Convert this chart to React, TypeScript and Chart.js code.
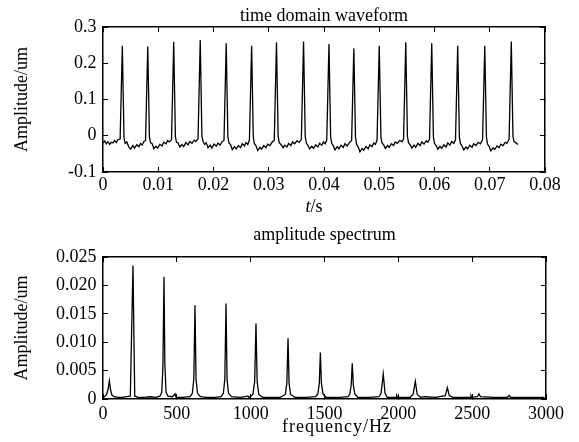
import React, { useEffect, useRef } from 'react';
import { Chart, registerables } from 'chart.js';

Chart.register(...registerables);

const FONT = '"Liberation Serif", "Times New Roman", serif';

// ---------- time domain waveform ----------
const waveTime = [
  0.0000, 0.0003, 0.0006, 0.0009, 0.0012, 0.0015, 0.0018, 0.0021, 0.0024, 0.0027, 0.0031,
  0.0035, 0.0038, 0.0040, 0.0043, 0.0047, 0.0050, 0.0054, 0.0057, 0.0061, 0.0065, 0.0068, 0.0071, 0.0074, 0.0077,
  0.0081, 0.0084, 0.0086, 0.0089, 0.0092, 0.0096, 0.0099, 0.0103, 0.0107, 0.0110, 0.0114, 0.0117, 0.0120, 0.0124,
  0.0128, 0.0131, 0.0133, 0.0136, 0.0139, 0.0143, 0.0146, 0.0150, 0.0154, 0.0157, 0.0161, 0.0165, 0.0168, 0.0172,
  0.0176, 0.0179, 0.0181, 0.0184, 0.0187, 0.0190, 0.0194, 0.0197, 0.0201, 0.0205, 0.0208, 0.0212, 0.0215, 0.0219,
  0.0223, 0.0226, 0.0228, 0.0231, 0.0234, 0.0238, 0.0241, 0.0245, 0.0249, 0.0252, 0.0256, 0.0259, 0.0262, 0.0265,
  0.0269, 0.0272, 0.0274, 0.0277, 0.0280, 0.0284, 0.0287, 0.0291, 0.0295, 0.0298, 0.0302, 0.0306, 0.0310,
  0.0314, 0.0317, 0.0319, 0.0322, 0.0326, 0.0329, 0.0333, 0.0336, 0.0340, 0.0343, 0.0347, 0.0351, 0.0355, 0.0359,
  0.0363, 0.0366, 0.0368, 0.0371, 0.0374, 0.0378, 0.0381, 0.0385, 0.0389, 0.0392, 0.0396, 0.0399, 0.0402, 0.0405,
  0.0409, 0.0412, 0.0414, 0.0417, 0.0420, 0.0424, 0.0427, 0.0431, 0.0435, 0.0438, 0.0442, 0.0446, 0.0450,
  0.0454, 0.0457, 0.0459, 0.0462, 0.0465, 0.0469, 0.0472, 0.0476, 0.0480, 0.0483, 0.0487, 0.0490, 0.0493, 0.0496,
  0.0500, 0.0503, 0.0505, 0.0508, 0.0511, 0.0515, 0.0518, 0.0522, 0.0526, 0.0529, 0.0533, 0.0537, 0.0541, 0.0544,
  0.0548, 0.0551, 0.0553, 0.0556, 0.0559, 0.0563, 0.0566, 0.0570, 0.0574, 0.0577, 0.0581, 0.0585, 0.0588, 0.0591,
  0.0595, 0.0598, 0.0600, 0.0603, 0.0606, 0.0610, 0.0613, 0.0617, 0.0621, 0.0624, 0.0628, 0.0631, 0.0635, 0.0638,
  0.0642, 0.0645, 0.0647, 0.0650, 0.0653, 0.0657, 0.0660, 0.0664, 0.0668, 0.0671, 0.0675, 0.0679, 0.0683, 0.0687,
  0.0691, 0.0694, 0.0696, 0.0699, 0.0702, 0.0706, 0.0709, 0.0713, 0.0717, 0.0720, 0.0724, 0.0728, 0.0731, 0.0735,
  0.0739, 0.0742, 0.0744, 0.0747, 0.0751,
];
const waveAmp = [
  -0.020, -0.014, -0.022, -0.016, -0.024, -0.018, -0.020, -0.013, -0.019, -0.011, -0.009,
  0.248, -0.004, -0.021, -0.017, -0.032, -0.037, -0.027, -0.034, -0.025, -0.030, -0.021, -0.026, -0.016, -0.013,
  0.246, -0.003, -0.019, -0.022, -0.036, -0.029, -0.034, -0.024, -0.028, -0.018, -0.022, -0.013, -0.017, -0.011,
  0.259, -0.002, -0.018, -0.020, -0.031, -0.024, -0.030, -0.019, -0.025, -0.016, -0.021, -0.012, -0.016, -0.008,
  0.264, -0.001, -0.015, -0.024, -0.019, -0.033, -0.026, -0.034, -0.023, -0.029, -0.020, -0.026, -0.017, -0.013,
  0.255, -0.003, -0.020, -0.025, -0.038, -0.030, -0.036, -0.027, -0.033, -0.022, -0.028, -0.019, -0.024, -0.012,
  0.248, -0.004, -0.022, -0.028, -0.041, -0.032, -0.037, -0.027, -0.033, -0.023, -0.027, -0.018, -0.012,
  0.258, -0.002, -0.019, -0.024, -0.033, -0.026, -0.031, -0.021, -0.027, -0.017, -0.022, -0.014, -0.018, -0.010,
  0.260, -0.002, -0.020, -0.027, -0.036, -0.029, -0.035, -0.025, -0.031, -0.021, -0.026, -0.017, -0.022, -0.012,
  0.253, -0.003, -0.021, -0.028, -0.039, -0.030, -0.036, -0.026, -0.032, -0.022, -0.028, -0.019, -0.013,
  0.241, -0.004, -0.024, -0.031, -0.044, -0.035, -0.040, -0.030, -0.036, -0.025, -0.030, -0.020, -0.024, -0.012,
  0.248, -0.003, -0.020, -0.025, -0.035, -0.027, -0.032, -0.022, -0.027, -0.017, -0.021, -0.013, -0.016, -0.009,
  0.258, -0.002, -0.019, -0.025, -0.034, -0.026, -0.032, -0.021, -0.027, -0.017, -0.023, -0.014, -0.018, -0.010,
  0.255, -0.003, -0.021, -0.027, -0.037, -0.029, -0.035, -0.025, -0.031, -0.020, -0.026, -0.016, -0.021, -0.011,
  0.248, -0.003, -0.022, -0.029, -0.039, -0.031, -0.036, -0.026, -0.032, -0.022, -0.027, -0.018, -0.022, -0.011,
  0.248, -0.004, -0.023, -0.030, -0.042, -0.033, -0.038, -0.028, -0.033, -0.023, -0.027, -0.018, -0.021, -0.010,
  0.260, -0.002, -0.016, -0.019, -0.024,
];
const waveXTicks = ['0', '0.01', '0.02', '0.03', '0.04', '0.05', '0.06', '0.07', '0.08'];
const waveYTicks = ['-0.1', '0', '0.1', '0.2', '0.3'];

// ---------- amplitude spectrum ----------
const specFreq = [
  0, 10, 25, 35, 43, 50, 60, 75, 100, 130, 160,
  185, 203, 215, 240, 280, 320, 360,
  385, 398, 406, 413, 419, 427, 440, 470, 488, 495, 540, 590,
  605, 615, 623, 630, 640, 660, 700, 760, 800,
  815, 825, 833, 840, 850, 870, 930, 982, 990,
  1015, 1027, 1036, 1044, 1055, 1080, 1150, 1200,
  1235, 1245, 1253, 1260, 1270, 1300, 1380, 1440,
  1455, 1465, 1472, 1479, 1490, 1510, 1600, 1660,
  1672, 1681, 1688, 1695, 1705, 1725, 1800, 1870,
  1883, 1898, 1910, 1925, 1985, 1989, 1994, 2080,
  2100, 2115, 2128, 2150, 2180, 2250,
  2318, 2332, 2345, 2370, 2440, 2488, 2492, 2497,
  2535, 2546, 2556, 2650, 2740, 2750, 2760, 2900, 2990,
];
const specAmp = [
  0.0003, 0.0004, 0.0008, 0.0018, 0.0032, 0.0018, 0.0007, 0.0004, 0.0003, 0.0003, 0.0004,
  0.0005, 0.0235, 0.0005, 0.0003, 0.0003, 0.0004, 0.0003,
  0.0005, 0.0012, 0.0060, 0.0215, 0.0060, 0.0012, 0.0005, 0.0004, 0.0009, 0.0003, 0.0003, 0.0004,
  0.0010, 0.0035, 0.0165, 0.0035, 0.0010, 0.0004, 0.0003, 0.0003, 0.0004,
  0.0010, 0.0035, 0.0168, 0.0035, 0.0010, 0.0004, 0.0003, 0.0005, 0.0003,
  0.0008, 0.0030, 0.0133, 0.0030, 0.0008, 0.0003, 0.0003, 0.0003,
  0.0008, 0.0028, 0.0107, 0.0028, 0.0008, 0.0003, 0.0003, 0.0004,
  0.0009, 0.0028, 0.0082, 0.0028, 0.0009, 0.0003, 0.0003, 0.0004,
  0.0009, 0.0025, 0.0063, 0.0025, 0.0009, 0.0003, 0.0003, 0.0004,
  0.0010, 0.0044, 0.0010, 0.0003, 0.0003, 0.0006, 0.0003, 0.0003,
  0.0008, 0.0031, 0.0008, 0.0003, 0.0004, 0.0003,
  0.0006, 0.0020, 0.0006, 0.0003, 0.0003, 0.0003, 0.0006, 0.0003,
  0.0004, 0.0009, 0.0004, 0.0003, 0.0003, 0.0006, 0.0003, 0.0003, 0.0003,
];
const specXTicks = ['0', '500', '1000', '1500', '2000', '2500', '3000'];
const specYTicks = ['0', '0.005', '0.010', '0.015', '0.020', '0.025'];

const waveTitle = 'time domain waveform';
const specTitle = 'amplitude spectrum';
const yAxisTitle = 'Amplitude/um';
const waveXTitle = [
  { text: 't', italic: true },
  { text: '/s', italic: false },
];
const specXTitle = [{ text: 'frequency/Hz', italic: false }];

const labelFor = (labels: string[], step: number) => (v: number) => {
  const hit = labels.find((l) => Math.abs(Number(l) - v) < step * 1e-3);
  return hit ?? '';
};

const axisTextPlugin = {
  id: 'axisText',
  afterDraw(chart: any, _args: any, opts: any) {
    if (!opts || !opts.parts) return;
    const ctx = chart.ctx as CanvasRenderingContext2D;
    ctx.save();
    ctx.fillStyle = '#000';
    ctx.textBaseline = 'alphabetic';
    ctx.textAlign = 'left';
    (ctx as any).letterSpacing = opts.letterSpacing || '0px';
    const widths: number[] = [];
    let total = 0;
    for (const p of opts.parts) {
      ctx.font = `${p.italic ? 'italic ' : ''}${opts.size}px ${FONT}`;
      const w = ctx.measureText(p.text).width;
      widths.push(w);
      total += w;
    }
    let x = opts.x - total / 2;
    opts.parts.forEach((p: any, i: number) => {
      ctx.font = `${p.italic ? 'italic ' : ''}${opts.size}px ${FONT}`;
      ctx.fillText(p.text, x, opts.y);
      x += widths[i];
    });
    ctx.restore();
  },
};

function buildScales(cfg: {
  xMin: number; xMax: number; xStep: number; xLabels: string[];
  yMin: number; yMax: number; yStep: number; yLabels: string[];
  xPad: number; axisH: number;
}) {
  const tickFont = { family: FONT, size: 18 };
  const grid = { drawOnChartArea: false, drawTicks: true, tickLength: -5, color: '#000', lineWidth: 1 };
  const border = { display: true, color: '#000', width: 1.5 };
  return {
    x: {
      type: 'linear', position: 'bottom', min: cfg.xMin, max: cfg.xMax,
      grid, border,
      ticks: {
        stepSize: cfg.xStep, autoSkip: false, maxRotation: 0, minRotation: 0,
        font: tickFont, color: '#000', padding: cfg.xPad,
        callback: labelFor(cfg.xLabels, cfg.xStep),
      },
      afterFit: (s: any) => { s.height = cfg.axisH; },
    },
    x2: {
      type: 'linear', position: 'top', min: cfg.xMin, max: cfg.xMax,
      grid, border,
      ticks: { stepSize: cfg.xStep, display: false, autoSkip: false },
      afterFit: (s: any) => { s.height = 0; },
    },
    y: {
      type: 'linear', position: 'left', min: cfg.yMin, max: cfg.yMax,
      grid, border,
      ticks: {
        stepSize: cfg.yStep, autoSkip: false,
        font: tickFont, color: '#000', padding: 11.5,
        callback: labelFor(cfg.yLabels, cfg.yStep),
      },
      title: {
        display: true, text: yAxisTitle, color: '#000',
        font: { family: FONT, size: 18 }, padding: { top: 11.2, bottom: 0 },
      },
      afterFit: (s: any) => { s.width = 103; },
    },
    y2: {
      type: 'linear', position: 'right', min: cfg.yMin, max: cfg.yMax,
      grid, border,
      ticks: { stepSize: cfg.yStep, display: false, autoSkip: false },
      afterFit: (s: any) => { s.width = 0; },
    },
  };
}

function makeConfig(opts: {
  xs: number[]; ys: number[]; title: string; titlePad: { top: number; bottom: number };
  rightPad: number; scales: any; axisText: any;
}) {
  return {
    type: 'line',
    data: {
      datasets: [
        {
          data: opts.xs.map((x, i) => ({ x, y: opts.ys[i] })),
          borderColor: '#000',
          borderWidth: 1.3,
          pointRadius: 0,
          tension: 0,
          fill: false,
        },
      ],
    },
    options: {
      responsive: false,
      animation: false,
      devicePixelRatio: 1,
      parsing: false,
      layout: { padding: { left: 0, right: opts.rightPad, top: 0, bottom: 0 } },
      plugins: {
        legend: { display: false },
        tooltip: { enabled: false },
        title: {
          display: true, text: opts.title, color: '#000', fullSize: false,
          font: { family: FONT, size: 18, weight: 'normal' },
          padding: opts.titlePad,
        },
        axisText: opts.axisText,
      },
      scales: opts.scales,
    },
    plugins: [axisTextPlugin],
  };
}

export default function App() {
  const topRef = useRef<HTMLCanvasElement>(null);
  const botRef = useRef<HTMLCanvasElement>(null);

  useEffect(() => {
    const top = new Chart(topRef.current as HTMLCanvasElement, makeConfig({
      xs: waveTime, ys: waveAmp, title: waveTitle,
      titlePad: { top: 5, bottom: 0.4 }, rightPad: 34,
      scales: buildScales({
        xMin: 0, xMax: 0.08, xStep: 0.01, xLabels: waveXTicks,
        yMin: -0.1, yMax: 0.3, yStep: 0.1, yLabels: waveYTicks,
        xPad: 7, axisH: 43,
      }),
      axisText: { parts: waveXTitle, x: 314, y: 212, size: 18 },
    }) as any);
    const bot = new Chart(botRef.current as HTMLCanvasElement, makeConfig({
      xs: specFreq, ys: specAmp, title: specTitle,
      titlePad: { top: 9.5, bottom: 10.9 }, rightPad: 33,
      scales: buildScales({
        xMin: 0, xMax: 3000, xStep: 500, xLabels: specXTicks,
        yMin: 0, yMax: 0.025, yStep: 0.005, yLabels: specYTicks,
        xPad: 9, axisH: 43,
      }),
      axisText: { parts: specXTitle, x: 337, y: 217, size: 18, letterSpacing: '1px' },
    }) as any);
    return () => {
      top.destroy();
      bot.destroy();
    };
  }, []);

  return (
    <div style={{ position: 'absolute', left: 0, top: 0, width: 579, height: 442, background: '#fff' }}>
      <canvas ref={topRef} width={579} height={215} style={{ position: 'absolute', left: 0, top: 0, display: 'block' }} />
      <canvas ref={botRef} width={579} height={227} style={{ position: 'absolute', left: 0, top: 215, display: 'block' }} />
    </div>
  );
}
